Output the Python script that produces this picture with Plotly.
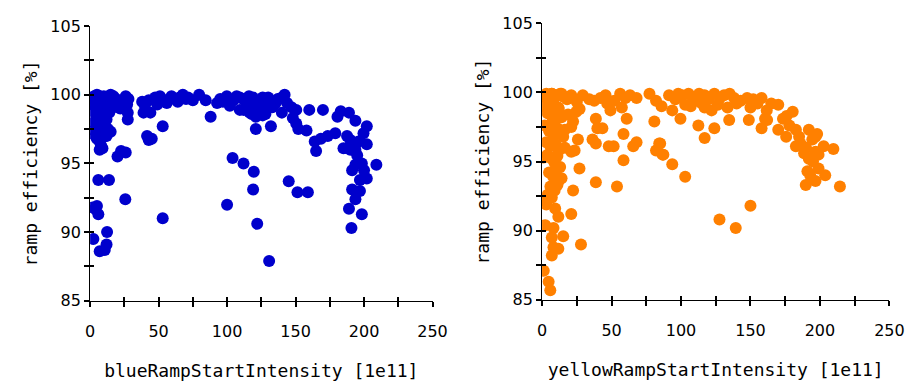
import plotly.graph_objects as go

# ---------------- data ----------------
blue_x = [1, 2, 1.5, 3, 4, 5, 6, 7, 8, 9, 10, 11, 12, 13, 15, 16, 17, 19, 21, 22, 24, 26, 28, 27, 27.5, 27.5,
          20, 16.5, 14, 12, 9.5, 7, 5, 7, 9, 15, 8, 5, 2.5, 3.5, 10, 11, 7, 13, 3, 6, 10, 4, 8, 12,
          2.4, 7, 10.7, 12, 12.4, 3.6, 6, 5, 2, 6, 13.8, 25.7, 20, 22.6, 26, 7, 41.6, 42.8, 45, 53, 53, 88,
          100, 104, 112, 119.5, 119, 121, 122, 130.7, 132, 145, 151.4, 159, 160, 158, 152, 165, 164, 168.5,
          170, 173.5, 179, 180.6, 183, 189, 193.7, 187.6, 190, 185, 193.7, 199.6, 202, 202, 209, 198.4,
          193.7, 191.3, 202, 197, 191.3, 197, 193.7, 189, 198.4, 190.8, 188, 195, 200, 196, 190,
          38, 39, 44, 42.8, 47.5, 51, 54.6, 59.4, 64, 65.3, 70, 71.5, 67.7, 40, 49, 56, 62, 75,
          79.6, 84.4, 92.7, 95, 99.8, 104.6, 109.3, 109.3, 114, 116.4, 118.8, 123.6, 126, 128.3, 126, 121,
          135.5, 140, 140, 143.8, 147, 150.5, 148, 150.5, 97, 102, 107, 112, 116, 120, 124, 130, 133, 137,
          142, 112, 118, 128, 131]
blue_y = [99.8, 99.3, 98.8, 99.9, 99.5, 100, 99.6, 99.9, 99.3, 99.7, 99.9, 99.5, 99.8, 99.2, 100, 99.6, 99.9,
          99.7, 99.3, 99.0, 99.6, 99.9, 99.7, 99.3, 98.7, 98.2,
          99.1, 99.3, 98.7, 98.2, 97.9, 97.3, 96.8, 96.6, 96.1, 97.3, 98.9, 98.4, 98.0, 99.2, 99.1, 97.0,
          97.7, 97.5, 97.4, 98.7, 98.5, 97.0, 96.3, 97.0,
          89.5, 88.6, 88.7, 89.1, 90.0, 91.7, 91.3, 91.9, 91.8, 93.8, 93.8, 92.4, 95.5, 95.9, 95.8, 96.0,
          97.0, 96.7, 96.8, 97.7, 91.0, 98.4,
          92.0, 95.4, 95.0, 94.4, 93.1, 97.5, 90.6, 87.9, 97.7, 93.7, 92.9, 92.9, 98.9, 97.4, 97.5, 95.9,
          96.6, 96.8,
          98.9, 97.0, 97.2, 98.4, 98.8, 98.7, 98.1, 97.0, 96.7, 96.1, 96.0, 97.2, 97.7, 96.4, 94.9, 95.0,
          94.9, 94.5, 93.9, 93.8, 93.1, 93.0, 92.4, 91.7, 91.3, 90.3, 96.1, 95.6, 94.5, 96.6, 96.0,
          99.5, 98.7, 98.7, 99.6, 99.8, 99.9, 99.6, 99.9, 99.5, 99.8, 99.7, 99.8, 100, 99.2, 99.3, 99.4,
          99.7, 99.6,
          100, 99.6, 99.4, 99.7, 99.9, 99.6, 99.8, 98.9, 99.4, 98.7, 99.8, 99.6, 99.8, 99.4, 98.5, 98.4,
          99.4, 99.8, 98.7, 99.4, 99.1, 98.9, 98.3, 97.9, 99.5, 99.2, 99.9, 99.7, 99.9, 99.2, 99.0, 99.8,
          99.1, 99.7, 100, 98.9, 98.6, 98.6, 99.3]

yellow_x = [1, 3, 5, 7, 9, 11, 13, 15, 2, 4, 6, 8, 10, 12, 14, 2, 5, 7, 9, 11, 13, 3, 6, 8, 10, 12, 4, 7,
            9, 11, 13, 5, 8, 10, 12, 14, 6, 9, 11, 4, 7, 3,
            1.2, 1.2, 2.3, 1.2, 4.7, 5.9, 7, 8.2, 11.7, 7, 8.2, 9.4, 11.7, 15.2, 21, 28, 22.3, 26.9, 25.8,
            21, 23.4, 16.4, 15.2, 16.4, 21, 22.3, 18.7, 24.6, 27, 9.4, 11.7, 38.7, 39.8, 43.4, 36.3, 38.7,
            38.7, 48, 51.5, 53.9, 58.6, 58.6, 60.9, 65.6, 68, 80.8, 84.3, 82, 86.7, 93.7, 103, 99.6, 112.5,
            117, 124, 127.7, 139.4, 150, 134.7, 148.8, 158, 160.5, 170, 170, 173.4, 175.7, 180.4, 182.7,
            182.7, 185, 188.6, 189.8, 192, 194.5, 192, 191, 196.8, 196.8, 199, 203.8, 202.7, 209.7, 214.4,
            196.8, 186, 190, 195, 199, 193, 198, 178, 176, 85, 87.3,
            2.3, 7, 14, 21, 29.3, 34, 37.5, 45.7, 46.9, 49.2, 56.2, 57.4, 63.3, 68, 77.3, 82, 91.4, 93.7,
            100.7, 103, 105.4, 110, 117, 117, 124, 126.5, 131, 133.5, 138.2, 143, 147.6, 150, 158, 161.7,
            25, 18, 42, 52, 60, 96, 98, 108, 113, 120, 128, 135, 140, 152, 155, 115, 122, 107, 86, 162, 165]
yellow_y = [99.7, 99.9, 99.5, 99.9, 99.6, 99.8, 99.9, 99.7, 99.0, 98.5, 98.9, 98.3, 98.6, 98.8, 98.2, 97.6,
            97.2, 97.8, 97.0, 97.4, 97.1, 96.4, 96.1, 96.7, 96.2, 95.8, 95.5, 95.2, 94.9, 95.4, 94.6, 94.2,
            93.9, 94.3, 93.6, 93.8, 93.2, 92.9, 93.3, 92.6, 92.4, 91.9,
            95.3, 92.2, 90.4, 87.1, 86.3, 85.7, 88.2, 88.8, 88.7, 89.5, 90.2, 91.6, 91.0, 89.6, 91.2, 89.0,
            92.9, 94.5, 96.6, 95.7, 95.8, 96.0, 96.8, 97.3, 97.5, 97.9, 98.4, 98.6, 98.8, 98.0, 98.9, 98.1,
            97.4, 97.4, 96.6, 96.3, 93.5, 96.1, 96.1, 93.2, 97.0, 95.1, 98.1, 96.1, 96.4, 97.9, 96.3, 95.8,
            95.5, 94.8, 93.9, 98.1, 97.6, 96.7, 97.4, 90.8, 90.2, 91.8, 98.0, 98.0, 97.4, 98.1, 99.1, 97.3,
            98.1, 96.8, 98.6, 97.3, 96.1, 96.8, 95.6, 93.3, 97.3, 96.6, 95.2, 94.3, 95.7, 93.6, 94.5, 94.0,
            96.1, 95.9, 93.2, 96.8, 96.3, 96.0, 95.0, 95.5, 94.0, 97.0, 97.6, 98.3, 96.3, 95.5,
            99.8, 99.9, 99.9, 99.8, 99.8, 99.5, 99.4, 99.8, 99.2, 98.7, 99.9, 98.9, 99.8, 99.6, 99.9, 99.4,
            99.8, 98.7, 99.8, 99.1, 99.9, 99.4, 99.8, 98.9, 99.9, 99.1, 99.8, 98.9, 99.6, 99.4, 99.6, 98.9,
            99.6, 98.7, 99.3, 99.5, 99.6, 99.4, 99.6, 99.5, 99.9, 99.7, 99.9, 99.5, 99.6, 99.9, 99.2, 99.5,
            99.2, 99.2, 98.7, 99.0, 99.0, 98.0, 99.2]

x_titles = ["blueRampStartIntensity [1e11]", "yellowRampStartIntensity [1e11]"]
y_title = "ramp efficiency [%]"
x_range = [0, 250]
y_range = [85, 105]

BLUE = "#0000CC"
ORANGE = "#FF8000"
W, H = 922, 383

left_dom_x = [87 / W, 437 / W]
right_dom_x = [549 / W, 904 / W]
left_dom_y = [1 - 307 / H, 1 - 18 / H]
right_dom_y = [1 - 306 / H, 1 - 15 / H]

fig = go.Figure()
fig.add_trace(go.Scatter(x=blue_x, y=blue_y, mode="markers", xaxis="x", yaxis="y",
                         marker=dict(color=BLUE, size=12, line=dict(width=0)), showlegend=False,
                         hoverinfo="skip"))
fig.add_trace(go.Scatter(x=yellow_x, y=yellow_y, mode="markers", xaxis="x2", yaxis="y2",
                         marker=dict(color=ORANGE, size=12, line=dict(width=0)), showlegend=False,
                         hoverinfo="skip"))
# empty traces so the overlay axes (inner half of the crossing ticks) exist
fig.add_trace(go.Scatter(x=[], y=[], xaxis="x3", yaxis="y", showlegend=False, hoverinfo="skip"))
fig.add_trace(go.Scatter(x=[], y=[], xaxis="x", yaxis="y3", showlegend=False, hoverinfo="skip"))
fig.add_trace(go.Scatter(x=[], y=[], xaxis="x4", yaxis="y2", showlegend=False, hoverinfo="skip"))
fig.add_trace(go.Scatter(x=[], y=[], xaxis="x2", yaxis="y4", showlegend=False, hoverinfo="skip"))

tick_font = dict(family="DejaVu Sans, sans-serif", size=16, color="black")
title_font = dict(family="DejaVu Sans Mono, monospace", size=18, color="black")


def main_x(dom, anchor, title):
    return dict(domain=dom, anchor=anchor, range=x_range, dtick=50, tick0=0,
                ticks="outside", ticklen=5, tickwidth=1.5, tickcolor="black",
                minor=dict(dtick=25, tick0=0, ticks="outside", ticklen=5, tickwidth=1.5, tickcolor="black"),
                showline=True, linecolor="black", linewidth=1, showgrid=False, zeroline=False,
                tickfont=tick_font, ticklabelstandoff=11,
                title=dict(text=title, font=title_font, standoff=24))


def main_y(dom, anchor):
    return dict(domain=dom, anchor=anchor, range=y_range, dtick=5, tick0=85,
                ticks="outside", ticklen=5, tickwidth=1.5, tickcolor="black",
                minor=dict(dtick=2.5, tick0=85, ticks="outside", ticklen=5, tickwidth=1.5, tickcolor="black"),
                showline=True, linecolor="black", linewidth=1, showgrid=False, zeroline=False,
                tickfont=tick_font, ticklabelstandoff=0,
                title=dict(text=y_title, font=title_font, standoff=8))


def over_x(base, anchor):
    return dict(overlaying=base, anchor=anchor, range=x_range, dtick=50, tick0=0,
                ticks="inside", ticklen=4, tickwidth=1.5, tickcolor="black",
                minor=dict(dtick=25, tick0=0, ticks="inside", ticklen=4, tickwidth=1.5, tickcolor="black"),
                showticklabels=False, showline=True, linecolor="black", linewidth=1,
                showgrid=False, zeroline=False, side="bottom")


def over_y(base, anchor):
    return dict(overlaying=base, anchor=anchor, range=y_range, dtick=5, tick0=85,
                ticks="inside", ticklen=4, tickwidth=1.5, tickcolor="black",
                minor=dict(dtick=2.5, tick0=85, ticks="inside", ticklen=4, tickwidth=1.5, tickcolor="black"),
                showticklabels=False, showline=True, linecolor="black", linewidth=1,
                showgrid=False, zeroline=False, side="left")


fig.update_layout(
    width=W, height=H,
    margin=dict(l=0, r=0, t=0, b=0),
    paper_bgcolor="white", plot_bgcolor="white",
    xaxis=main_x(left_dom_x, "y", x_titles[0]),
    yaxis=main_y(left_dom_y, "x"),
    xaxis2=main_x(right_dom_x, "y2", x_titles[1]),
    yaxis2=main_y(right_dom_y, "x2"),
    xaxis3=over_x("x", "y"),
    yaxis3=over_y("y", "x"),
    xaxis4=over_x("x2", "y2"),
    yaxis4=over_y("y2", "x2"),
)

fig.write_html("out.html")
